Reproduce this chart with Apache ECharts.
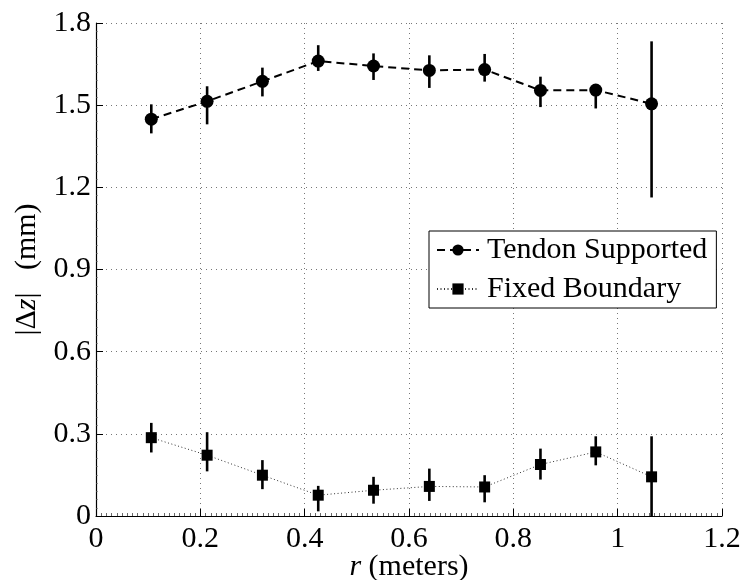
<!DOCTYPE html>
<html>
<head>
<meta charset="utf-8">
<script src="https://cdn.jsdelivr.net/npm/echarts@6/dist/echarts.min.js"></script>
<style>
html,body{margin:0;padding:0;background:#fff;}
#chart{width:743px;height:580px;}
</style>
</head>
<body>
<div id="chart"></div>
<script>
var rValues = [0.106, 0.213, 0.319, 0.426, 0.532, 0.639, 0.745, 0.852, 0.958, 1.065];
var tendon   = [1.449, 1.514, 1.587, 1.661, 1.643, 1.627, 1.630, 1.554, 1.555, 1.505];
var tendonHi = [1.503, 1.569, 1.637, 1.719, 1.689, 1.682, 1.687, 1.604, 1.560, 1.733];
var tendonLo = [1.397, 1.430, 1.532, 1.625, 1.592, 1.563, 1.586, 1.493, 1.488, 1.163];
var fixed    = [0.286, 0.222, 0.149, 0.076, 0.094, 0.108, 0.106, 0.188, 0.234, 0.143];
var fixedHi  = [0.340, 0.306, 0.204, 0.110, 0.143, 0.173, 0.149, 0.246, 0.291, 0.291];
var fixedLo  = [0.232, 0.163, 0.098, 0.017, 0.045, 0.055, 0.050, 0.133, 0.185, -0.010];
var xTicks = [0, 0.2, 0.4, 0.6, 0.8, 1, 1.2];
var yTicks = [0, 0.3, 0.6, 0.9, 1.2, 1.5, 1.8];
var seriesNames = ['Tendon Supported', 'Fixed Boundary'];

var FONT = '"Liberation Serif", "Times New Roman", serif';

function pairs(xs, ys) { return xs.map(function (x, i) { return [x, ys[i]]; }); }
function errData(xs, lo, hi) { return xs.map(function (x, i) { return [x, lo[i], hi[i]]; }); }

function errRender(params, api) {
  var x = api.value(0);
  var p1 = api.coord([x, api.value(1)]);
  var p2 = api.coord([x, api.value(2)]);
  return {
    type: 'line',
    shape: { x1: p1[0], y1: p1[1], x2: p2[0], y2: p2[1] },
    style: { stroke: '#000', lineWidth: 2.6 }
  };
}

var chart = echarts.init(document.getElementById('chart'), null, { renderer: 'canvas' });
chart.setOption({
  animation: false,
  backgroundColor: '#fff',
  grid: { left: 96, right: 21, top: 23, bottom: 64, containLabel: false, outerBoundsMode: 'none' },
  legend: {
    orient: 'vertical',
    left: 429, top: 231,
    padding: [4, 9, 4, 7],
    itemGap: 9,
    itemWidth: 42, itemHeight: 14,
    borderColor: '#000', borderWidth: 1,
    backgroundColor: '#fff',
    textStyle: { fontFamily: FONT, fontSize: 30, color: '#000', padding: [0, 0, 0, 3] },
    data: seriesNames
  },
  xAxis: {
    type: 'value', min: 0, max: 1.2, interval: 0.2,
    name: '{i|r} (meters)', nameLocation: 'middle', nameGap: 36, nameMoveOverlap: false,
    nameTextStyle: { fontFamily: FONT, fontSize: 30, color: '#000', lineHeight: 30,
      rich: { i: { fontFamily: FONT, fontSize: 30, lineHeight: 30, fontStyle: 'italic', color: '#000' } } },
    axisLine: { show: true, onZero: false, lineStyle: { color: '#000', width: 1.2 } },
    axisTick: { show: true, inside: true, length: 7, lineStyle: { color: '#000', width: 1 } },
    minorTick: { show: true, splitNumber: 20, length: 3, lineStyle: { color: '#444', width: 0.8 } },
    axisLabel: { fontFamily: FONT, fontSize: 30, color: '#000', margin: 8,
      formatter: function (v) { var s = xTicks.filter(function(t){return Math.abs(t - v) < 1e-9;}); return s.length ? String(s[0]) : ''; } },
    splitLine: { show: true, lineStyle: { color: '#777', width: 1, type: [1, 4] } }
  },
  yAxis: {
    type: 'value', min: 0, max: 1.8, interval: 0.3,
    name: '|Δ{i|z}|   (mm)', nameLocation: 'middle', nameGap: 53, nameRotate: 90,
    nameTextStyle: { fontFamily: FONT, fontSize: 30, color: '#000',
      rich: { i: { fontFamily: FONT, fontSize: 30, fontStyle: 'italic', color: '#000' } } },
    axisLine: { show: true, onZero: false, lineStyle: { color: '#000', width: 1.2 } },
    axisTick: { show: true, inside: true, length: 7, lineStyle: { color: '#000', width: 1 } },
    minorTick: { show: true, splitNumber: 10, length: 2, lineStyle: { color: '#666', width: 0.6 } },
    axisLabel: { fontFamily: FONT, fontSize: 30, color: '#000', margin: 5,
      formatter: function (v) { var s = yTicks.filter(function(t){return Math.abs(t - v) < 1e-9;}); return s.length ? String(s[0]) : ''; } },
    splitLine: { show: true, lineStyle: { color: '#777', width: 1, type: [1, 4] } }
  },
  series: [
    {
      name: seriesNames[0], type: 'line', data: pairs(rValues, tendon),
      symbol: 'circle', symbolSize: 13,
      itemStyle: { color: '#000' },
      lineStyle: { color: '#000', width: 2, type: [8, 5] },
      z: 3
    },
    {
      name: seriesNames[1], type: 'line', data: pairs(rValues, fixed),
      symbol: 'rect', symbolSize: 11,
      itemStyle: { color: '#000' },
      lineStyle: { color: '#333', width: 1, type: [1, 2.5] },
      z: 3
    },
    {
      type: 'custom', renderItem: errRender, data: errData(rValues, tendonLo, tendonHi),
      clip: true, z: 2, encode: { x: 0, y: [1, 2] }, silent: true
    },
    {
      type: 'custom', renderItem: errRender, data: errData(rValues, fixedLo, fixedHi),
      clip: true, z: 2, encode: { x: 0, y: [1, 2] }, silent: true
    }
  ]
});
</script>
</body>
</html>
